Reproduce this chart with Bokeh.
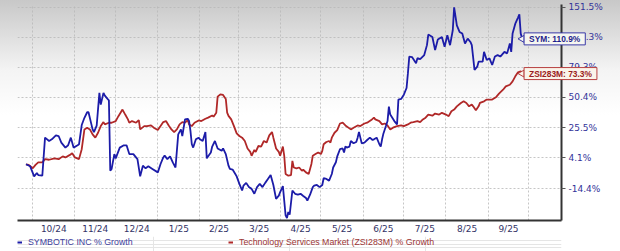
import math
import pandas as pd
from bokeh.plotting import figure
from bokeh.layouts import column
from bokeh.models import (Range1d, FixedTicker, CustomJSTickFormatter, ColumnDataSource,
                          Legend, LegendItem, Label)
from bokeh.embed import file_html
from bokeh.resources import INLINE

# ---------------- data (percent growth since start) ----------------
sym_dates = [
    "2024-09-26", "2024-09-29", "2024-10-02", "2024-10-04", "2024-10-05", "2024-10-08", "2024-10-10",
    "2024-10-13", "2024-10-15", "2024-10-18", "2024-10-20", "2024-10-22", "2024-10-25", "2024-10-27",
    "2024-10-29", "2024-10-31", "2024-11-03", "2024-11-04", "2024-11-06", "2024-11-08", "2024-11-10",
    "2024-11-11", "2024-11-14", "2024-11-15", "2024-11-17", "2024-11-19", "2024-11-20", "2024-11-22",
    "2024-11-23", "2024-11-25", "2024-11-26", "2024-11-27", "2024-11-28", "2024-11-30", "2024-12-01",
    "2024-12-04", "2024-12-07", "2024-12-09", "2024-12-11", "2024-12-14", "2024-12-17", "2024-12-19",
    "2024-12-21", "2024-12-23", "2024-12-25", "2024-12-28", "2025-01-01", "2025-01-03", "2025-01-05",
    "2025-01-06", "2025-01-08", "2025-01-10", "2025-01-12", "2025-01-14", "2025-01-16", "2025-01-18",
    "2025-01-19", "2025-01-21", "2025-01-23", "2025-01-24", "2025-01-25", "2025-01-26", "2025-01-27",
    "2025-01-29", "2025-01-31", "2025-02-01", "2025-02-03", "2025-02-05", "2025-02-06", "2025-02-09",
    "2025-02-10", "2025-02-12", "2025-02-14", "2025-02-17", "2025-02-18", "2025-02-20", "2025-02-22",
    "2025-02-23", "2025-02-25", "2025-02-27", "2025-02-28", "2025-03-02", "2025-03-04", "2025-03-05",
    "2025-03-07", "2025-03-09", "2025-03-11", "2025-03-13", "2025-03-15", "2025-03-17", "2025-03-19",
    "2025-03-21", "2025-03-23", "2025-03-25", "2025-03-27", "2025-03-29", "2025-03-31", "2025-04-01",
    "2025-04-03", "2025-04-05", "2025-04-06", "2025-04-07", "2025-04-08", "2025-04-10", "2025-04-12",
    "2025-04-14", "2025-04-16", "2025-04-18", "2025-04-20", "2025-04-21", "2025-04-23", "2025-04-25",
    "2025-04-26", "2025-04-28", "2025-04-30", "2025-05-02", "2025-05-03", "2025-05-05", "2025-05-07",
    "2025-05-09", "2025-05-10", "2025-05-12", "2025-05-13", "2025-05-15", "2025-05-17", "2025-05-18",
    "2025-05-19", "2025-05-20", "2025-05-22", "2025-05-23", "2025-05-25", "2025-05-27", "2025-05-28",
    "2025-05-29", "2025-05-30", "2025-05-31", "2025-06-02", "2025-06-04", "2025-06-06", "2025-06-08",
    "2025-06-09", "2025-06-11", "2025-06-13", "2025-06-14", "2025-06-15", "2025-06-16", "2025-06-18",
    "2025-06-19", "2025-06-20", "2025-06-21", "2025-06-24", "2025-06-26", "2025-06-27", "2025-06-29",
    "2025-07-01", "2025-07-03", "2025-07-04", "2025-07-05", "2025-07-07", "2025-07-10", "2025-07-11",
    "2025-07-13", "2025-07-16", "2025-07-18", "2025-07-19", "2025-07-22", "2025-07-24", "2025-07-26",
    "2025-07-29", "2025-07-31", "2025-08-02", "2025-08-04", "2025-08-06", "2025-08-07", "2025-08-09",
    "2025-08-11", "2025-08-13", "2025-08-15", "2025-08-17", "2025-08-19", "2025-08-20", "2025-08-22",
    "2025-08-24", "2025-08-25", "2025-08-28", "2025-08-29", "2025-08-31", "2025-09-02", "2025-09-04",
    "2025-09-06", "2025-09-08", "2025-09-10", "2025-09-13", "2025-09-15", "2025-09-17", "2025-09-18",
    "2025-09-19", "2025-09-21", "2025-09-23", "2025-09-24", "2025-09-25", "2025-09-26",
]
sym_pct = [
    0.0, -1.2, -7.4, -5.4, -6.6, -7.0, 18.0,
    15.6, 16.8, 19.7, 19.2, 14.5, 11.0, 12.6,
    18.0, 11.0, 12.6, 13.3, 27.4, 33.1, 37.6,
    37.6, 24.1, 22.1, 26.9, 54.3, 44.0, 54.3,
    51.8, 48.9, 47.7, -4.0, -2.9, 6.6, 3.8,
    11.0, 12.6, 12.6, 6.6, 6.6, 3.3, -7.4,
    -0.9, -2.5, -1.3, -2.9, -5.0, 0.2, 4.4,
    5.6, 3.3, 5.1, 1.2, -2.0, 20.4, 24.1,
    19.2, 31.8, 32.3, 30.5, 23.0, 13.3, 11.0,
    16.8, 18.0, 16.8, 15.6, 22.1, 3.8, 7.7,
    11.7, 15.6, 10.4, 8.8, 10.4, 6.6, -0.9,
    -2.9, -3.3, -6.0, -7.4, -11.8, -15.5, -12.8,
    -11.2, -13.6, -14.6, -17.3, -13.6, -11.8, -13.6,
    -11.2, -8.9, -6.6, -12.4, -20.0, -18.3, -16.4,
    -13.0, -28.4, -29.7, -26.8, -28.1, -15.5, -17.3,
    -17.8, -17.3, -18.5, -19.6, -20.9, -17.8, -13.6,
    -12.8, -12.4, -13.6, -12.4, -8.5, -8.9, -9.9,
    -6.0, -2.0, 1.3, 5.1, 9.9, 10.4, 7.7,
    11.7, 11.0, 11.7, 15.6, 14.0, 14.9, 18.0,
    22.1, 18.0, 14.0, 14.5, 16.3, 18.0, 16.3,
    16.8, 18.0, 13.3, 11.7, 16.8, 21.1, 27.2,
    30.5, 42.3, 35.7, 30.5, 27.9, 48.3, 48.9,
    52.7, 58.8, 73.1, 90.4, 89.8, 83.2, 88.7,
    87.6, 92.0, 103.2, 115.7, 112.8, 97.5, 109.8,
    112.8, 101.3, 114.9, 103.2, 121.0, 151.3, 127.2,
    118.9, 116.9, 105.1, 110.8, 106.9, 103.2, 76.3,
    79.7, 84.9, 84.9, 95.6, 86.7, 88.5, 81.4,
    90.4, 92.0, 90.4, 95.6, 93.9, 105.1, 95.6,
    116.9, 129.3, 137.3, 141.5, 116.9, 110.9,
]

zsi_dates = [
    "2024-09-26", "2024-09-28", "2024-10-01", "2024-10-03", "2024-10-05", "2024-10-08", "2024-10-10",
    "2024-10-13", "2024-10-17", "2024-10-20", "2024-10-23", "2024-10-25", "2024-10-28", "2024-10-30",
    "2024-11-01", "2024-11-04", "2024-11-06", "2024-11-08", "2024-11-10", "2024-11-12", "2024-11-14",
    "2024-11-16", "2024-11-18", "2024-11-20", "2024-11-22", "2024-11-23", "2024-11-26", "2024-11-28",
    "2024-12-01", "2024-12-03", "2024-12-06", "2024-12-08", "2024-12-10", "2024-12-11", "2024-12-13",
    "2024-12-16", "2024-12-18", "2024-12-19", "2024-12-22", "2024-12-24", "2024-12-27", "2024-12-29",
    "2025-01-01", "2025-01-03", "2025-01-05", "2025-01-07", "2025-01-09", "2025-01-11", "2025-01-13",
    "2025-01-15", "2025-01-17", "2025-01-19", "2025-01-21", "2025-01-23", "2025-01-24", "2025-01-26",
    "2025-01-28", "2025-01-31", "2025-02-02", "2025-02-05", "2025-02-07", "2025-02-10", "2025-02-11",
    "2025-02-13", "2025-02-14", "2025-02-16", "2025-02-18", "2025-02-20", "2025-02-21", "2025-02-22",
    "2025-02-24", "2025-02-26", "2025-02-28", "2025-03-02", "2025-03-04", "2025-03-06", "2025-03-08",
    "2025-03-10", "2025-03-11", "2025-03-13", "2025-03-14", "2025-03-16", "2025-03-18", "2025-03-20",
    "2025-03-22", "2025-03-24", "2025-03-26", "2025-03-27", "2025-03-29", "2025-03-31", "2025-04-01",
    "2025-04-03", "2025-04-04", "2025-04-05", "2025-04-07", "2025-04-09", "2025-04-10", "2025-04-11",
    "2025-04-13", "2025-04-15", "2025-04-17", "2025-04-18", "2025-04-20", "2025-04-22", "2025-04-24",
    "2025-04-25", "2025-04-27", "2025-04-29", "2025-05-01", "2025-05-02", "2025-05-03", "2025-05-05",
    "2025-05-07", "2025-05-08", "2025-05-09", "2025-05-11", "2025-05-13", "2025-05-15", "2025-05-17",
    "2025-05-19", "2025-05-23", "2025-05-25", "2025-05-28", "2025-05-30", "2025-06-02", "2025-06-04",
    "2025-06-07", "2025-06-09", "2025-06-10", "2025-06-13", "2025-06-15", "2025-06-17", "2025-06-19",
    "2025-06-21", "2025-06-23", "2025-06-26", "2025-06-29", "2025-07-01", "2025-07-04", "2025-07-06",
    "2025-07-08", "2025-07-11", "2025-07-13", "2025-07-15", "2025-07-17", "2025-07-19", "2025-07-22",
    "2025-07-24", "2025-07-27", "2025-07-29", "2025-08-01", "2025-08-03", "2025-08-05", "2025-08-07",
    "2025-08-09", "2025-08-12", "2025-08-14", "2025-08-16", "2025-08-18", "2025-08-20", "2025-08-21",
    "2025-08-23", "2025-08-25", "2025-08-26", "2025-08-29", "2025-08-31", "2025-09-02", "2025-09-04",
    "2025-09-07", "2025-09-09", "2025-09-12", "2025-09-14", "2025-09-17", "2025-09-19", "2025-09-21",
    "2025-09-23", "2025-09-25", "2025-09-26",
]
zsi_pct = [
    0.0, -0.4, -2.5, -0.4, 1.2, 1.2, 3.3,
    2.9, 3.8, 3.3, 5.1, 4.4, 5.9, 7.2,
    4.4, 3.3, 9.9, 24.1, 25.4, 24.1, 20.4,
    18.0, 21.6, 26.6, 29.7, 27.9, 29.2, 29.2,
    30.5, 34.4, 39.8, 35.7, 31.8, 29.2, 30.5,
    29.2, 31.3, 24.1, 26.6, 26.6, 27.2, 25.4,
    23.6, 26.6, 29.7, 30.5, 27.1, 24.1, 22.1,
    24.1, 27.9, 29.7, 29.2, 31.3, 27.9, 26.6,
    29.2, 31.0, 30.5, 32.3, 33.2, 35.0, 34.0,
    37.2, 50.9, 53.0, 52.4, 48.9, 37.2, 34.6,
    31.8, 26.6, 21.1, 19.2, 18.0, 15.6, 10.4,
    8.1, 5.5, 9.4, 8.1, 12.1, 11.7, 15.6,
    14.5, 19.7, 22.1, 18.0, 10.4, 8.1, 5.5,
    11.7, 5.5, -6.0, -7.0, -6.6, 2.2, -2.0,
    -2.6, -2.0, -4.0, -3.4, -5.0, -6.0, 0.2,
    5.5, 6.6, 7.7, 6.6, 8.8, 13.3, 14.9,
    15.6, 14.5, 18.0, 21.6, 23.6, 28.6, 29.2,
    27.1, 24.1, 25.4, 27.1, 26.6, 28.6, 29.2,
    31.3, 33.2, 31.8, 30.5, 27.9, 28.6, 27.1,
    24.1, 25.4, 26.6, 27.1, 26.6, 27.9, 29.2,
    29.7, 30.5, 29.7, 31.8, 33.2, 35.7, 34.8,
    36.5, 35.7, 37.1, 35.7, 34.4, 38.4, 39.8,
    42.5, 45.4, 46.8, 45.4, 42.5, 44.0, 42.5,
    39.2, 42.5, 45.4, 46.8, 48.3, 48.3, 48.3,
    50.7, 53.6, 57.2, 60.3, 61.8, 65.0, 69.9,
    73.9, 74.9, 73.3,
]

y_tick_pct = [151.5, 112.3, 79.3, 50.4, 25.5, 4.1, -14.4]
sym_name = "SYMBOTIC INC % Growth"
zsi_name = "Technology Services Market (ZSI283M) % Growth"
sym_tag = "SYM"
zsi_tag = "ZSI283M"

OFFSET = 125.0  # growth axis is logarithmic in (pct + OFFSET)

# ---------------- derived tables ----------------
def ms(ts):
    return pd.Timestamp(ts).value / 1e6

month_starts = pd.date_range("2024-10-01", "2025-10-01", freq="MS")
grid_ticks = [ms(t) for t in month_starts]
label_ticks = [(a + b) / 2 for a, b in zip(grid_ticks[:-1], grid_ticks[1:])]

sym_src = ColumnDataSource(dict(x=pd.to_datetime(sym_dates), y=[v + OFFSET for v in sym_pct]))
zsi_src = ColumnDataSource(dict(x=pd.to_datetime(zsi_dates), y=[v + OFFSET for v in zsi_pct]))

SYM_COLOR = "#1c1ca8"
ZSI_COLOR = "#b02828"
LINE_W = 1.8

W, H = 620, 236
B_LEFT, B_RIGHT, B_TOP, B_BOTTOM = 17, 59, 4, 14
X0, X1 = ms("2024-09-19 18:00"), ms("2025-10-25")
y_range = Range1d(94.1, 280.2)

p = figure(width=W, height=H, x_axis_type="datetime", y_axis_type="log",
           y_axis_location="right", x_range=Range1d(X0, X1), y_range=y_range,
           output_backend="svg", toolbar_location=None,
           min_border_left=B_LEFT, min_border_right=B_RIGHT,
           min_border_top=B_TOP, min_border_bottom=B_BOTTOM)

p.background_fill_color = None
p.border_fill_color = None
p.outline_line_color = None
p.styles = {"background": "linear-gradient(to bottom, #c8c8c8 0px, #f4f4f4 70px, #ffffff 115px, #ffffff 100%)"}

# grids
p.xgrid.ticker = FixedTicker(ticks=grid_ticks)
for g in (p.xgrid, p.ygrid):
    g.grid_line_color = "#b8b8b8"
    g.grid_line_alpha = 0.8
    g.grid_line_dash = "2 2"
    g.grid_line_width = 1

# x axis
xa = p.xaxis[0]
xa.ticker = FixedTicker(ticks=label_ticks)
xa.formatter = CustomJSTickFormatter(code="""
const d = new Date(tick);
return (d.getUTCMonth() + 1) + "/" + String(d.getUTCFullYear()).slice(2);
""")
xa.major_tick_line_color = None
xa.major_tick_out = 0
xa.minor_tick_line_color = None
xa.axis_line_color = "#333333"
xa.axis_line_width = 2
xa.major_label_standoff = 3
xa.major_label_text_font = "DejaVu Sans"
xa.major_label_text_font_size = "9px"
xa.major_label_text_color = "#333366"

# y axis (right)
ya = p.yaxis[0]
ya.ticker = FixedTicker(ticks=[t + OFFSET for t in y_tick_pct])
ya.formatter = CustomJSTickFormatter(args=dict(offset=OFFSET),
                                     code="return (tick - offset).toFixed(1) + '%';")
ya.major_tick_out = 4
ya.major_tick_in = 0
ya.major_tick_line_color = "#555555"
ya.minor_tick_line_color = None
ya.axis_line_color = "#333333"
ya.axis_line_width = 2
ya.major_label_standoff = 3
ya.major_label_text_font = "DejaVu Sans"
ya.major_label_text_font_size = "9px"
ya.major_label_text_color = "#333399"

# lines
p.line("x", "y", source=zsi_src, line_color=ZSI_COLOR, line_width=LINE_W)
p.line("x", "y", source=sym_src, line_color=SYM_COLOR, line_width=LINE_W)

# ---- transparent overlay with the same data mapping, whose frame reaches the right edge,
# ---- so the end-value callouts may overlap the right-hand tick labels
frame_w = W - B_LEFT - B_RIGHT
ov_x1 = X0 + (X1 - X0) * (W - B_LEFT) / frame_w
ov = figure(width=W, height=H, x_axis_type="datetime", y_axis_type="log",
            x_range=Range1d(X0, ov_x1), y_range=y_range,
            x_axis_location=None, y_axis_location=None,
            output_backend="svg", toolbar_location=None,
            min_border_left=B_LEFT, min_border_right=0,
            min_border_top=B_TOP, min_border_bottom=B_BOTTOM)
ov.background_fill_color = None
ov.border_fill_color = None
ov.outline_line_color = None
ov.xgrid.visible = False
ov.ygrid.visible = False
ov.styles = {"position": "absolute", "left": "0px", "top": "0px", "z-index": "5",
             "pointer-events": "none"}

for tag, dates, vals, col, txt_col, fill in (
        (sym_tag, sym_dates, sym_pct, "#3a3aa8", "#1e1e8c", "#f6f6f0"),
        (zsi_tag, zsi_dates, zsi_pct, "#b84040", "#9a2020", "#faf4ea")):
    xe, ye = ms(dates[-1]), vals[-1] + OFFSET
    # pointer notch of the callout
    ov.scatter(x=[xe], y=[ye], marker="triangle", size=7, angle=math.pi / 2,
               fill_color=fill, line_color=col, line_width=1)
    ov.add_layout(Label(x=xe, y=ye, x_offset=2,
                        text=f"{tag}: {vals[-1]:.1f}%", text_align="left", text_baseline="middle",
                        text_font="Liberation Sans", text_font_style="bold",
                        text_font_size="8.4px", text_color=txt_col,
                        background_fill_color=fill, border_line_color=col, border_line_width=1,
                        padding=(5, 1)))

# ---- legend strip below the chart
pl = figure(width=W, height=15, x_axis_location=None, y_axis_location=None,
            output_backend="svg", toolbar_location=None,
            min_border_left=0, min_border_right=0, min_border_top=0, min_border_bottom=0)
pl.outline_line_color = None
pl.background_fill_color = None
pl.border_fill_color = None
l_sym = pl.line(x=[0], y=[0], line_color=SYM_COLOR, line_width=2)
l_zsi = pl.line(x=[0], y=[0], line_color=ZSI_COLOR, line_width=2)
for r, name, txt_col, loc in ((l_sym, sym_name, "#3d3d9c", (0, 4)),
                              (l_zsi, zsi_name, "#9c3535", (211, 4))):
    pl.add_layout(Legend(items=[LegendItem(label=name, renderers=[r])],
                         orientation="horizontal", location=loc,
                         glyph_width=5, glyph_height=10, label_height=10, label_standoff=6,
                         padding=0, margin=0, background_fill_alpha=0, border_line_color=None,
                         label_text_font="Liberation Sans", label_text_font_size="8.8px",
                         label_text_color=txt_col), "center")

layout = column(p, pl, spacing=0)
open("out.html", "w").write(file_html([layout, ov], INLINE))
